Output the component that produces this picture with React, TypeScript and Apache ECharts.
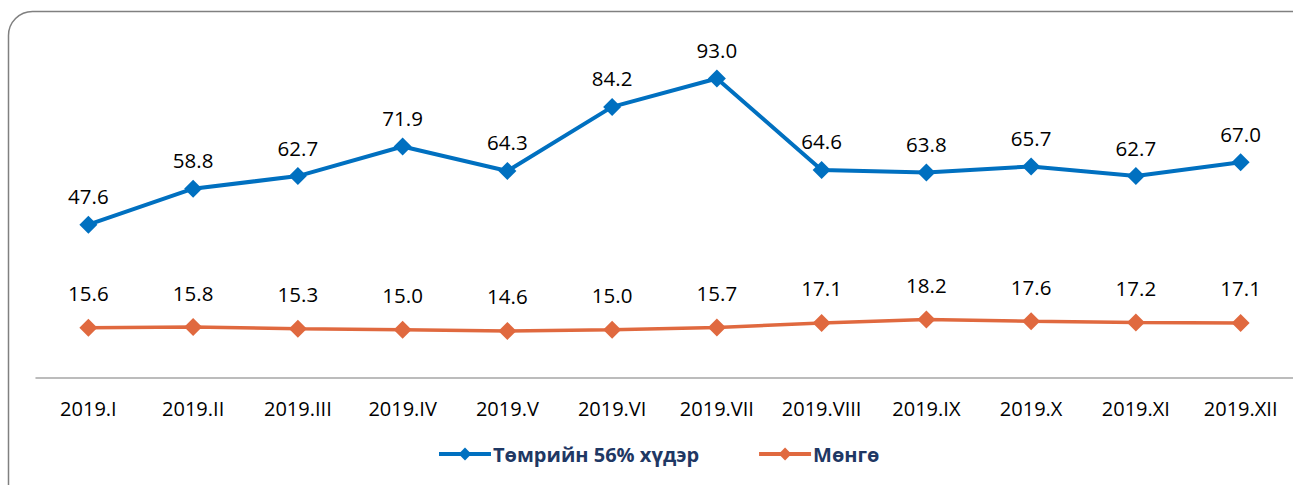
import React, { useEffect, useRef } from "react";
import * as echarts from "echarts";

const categories = ["2019.I", "2019.II", "2019.III", "2019.IV", "2019.V", "2019.VI", "2019.VII", "2019.VIII", "2019.IX", "2019.X", "2019.XI", "2019.XII"];
const ironOre = [47.6, 58.8, 62.7, 71.9, 64.3, 84.2, 93.0, 64.6, 63.8, 65.7, 62.7, 67.0];
const silver = [15.6, 15.8, 15.3, 15.0, 14.6, 15.0, 15.7, 17.1, 18.2, 17.6, 17.2, 17.1];
const seriesNames = ["Төмрийн 56% хүдэр", "Мөнгө"];

const FONT = "'Open Sans', 'Noto Sans', sans-serif";

export default function App() {
  const ref = useRef<HTMLDivElement>(null);
  useEffect(() => {
    const chart = echarts.init(ref.current!, null, { renderer: "svg" });
    const label = {
      show: true,
      position: "top" as const,
      distance: 9,
      color: "#000",
      fontSize: 20.5,
      fontFamily: FONT,
      formatter: (p: any) => Number(p.value).toFixed(1),
    };
    chart.setOption({
      animation: false,
      backgroundColor: "#fff",
      graphic: [
        {
          type: "rect",
          shape: { x: 8.5, y: 11.5, width: 1400, height: 600, r: 24 },
          style: { fill: "none", stroke: "#808080", lineWidth: 1.5 },
          silent: true,
          z: -1,
        },
      ],
      grid: { left: 36, right: 0, top: 56, bottom: 107 },
      legend: {
        bottom: 16,
        left: 432,
        itemWidth: 52,
        itemHeight: 16,
        itemGap: 58,
        lineStyle: { width: 4 },
        textStyle: { color: "#1f3864", fontSize: 20, fontWeight: "bold", fontFamily: FONT, padding: [0, 0, 0, -3] },
        data: seriesNames,
      },
      xAxis: {
        type: "category",
        data: categories,
        boundaryGap: true,
        axisLine: { lineStyle: { color: "#a6a6a6", width: 1.5 } },
        axisTick: { show: false },
        axisLabel: { color: "#000", fontSize: 20, fontFamily: FONT, margin: 20 },
      },
      yAxis: {
        type: "value",
        min: 0,
        max: 100,
        show: false,
        splitLine: { show: false },
      },
      series: [
        {
          name: seriesNames[0],
          type: "line",
          data: ironOre,
          symbol: "diamond",
          symbolSize: 18,
          color: "#0070c0",
          lineStyle: { width: 4, color: "#0070c0" },
          itemStyle: { color: "#0070c0" },
          label,
        },
        {
          name: seriesNames[1],
          type: "line",
          data: silver,
          symbol: "diamond",
          symbolSize: 18,
          color: "#e0693f",
          lineStyle: { width: 3.5, color: "#e0693f" },
          itemStyle: { color: "#e0693f" },
          label: { ...label, distance: 15 },
        },
      ],
    });
    return () => chart.dispose();
  }, []);
  return (
    <div
      ref={ref}
      style={{ position: "absolute", left: 0, top: 0, width: 1293, height: 485 }}
    />
  );
}
